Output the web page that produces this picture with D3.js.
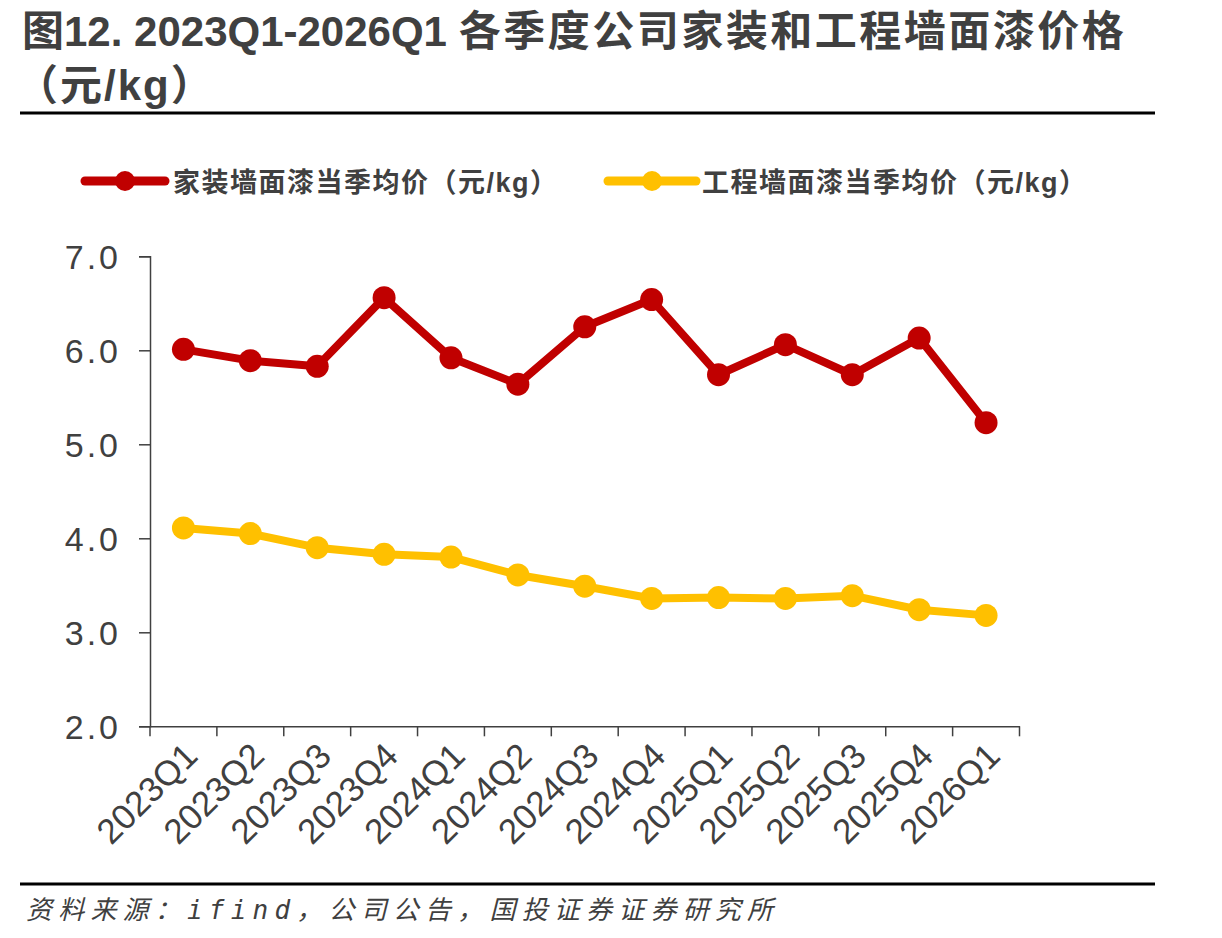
<!DOCTYPE html>
<html>
<head>
<meta charset="utf-8">
<script src="https://cdn.jsdelivr.net/npm/d3@7"></script>
<style>
  body { margin: 0; background: #fff; }
  svg text { font-family: Arial, "Liberation Sans", "Noto Sans CJK SC", sans-serif; fill: #404040; }
</style>
</head>
<body>
<div id="chart"></div>
<script>
// quarters on the x axis
const quarters = ["2023Q1","2023Q2","2023Q3","2023Q4","2024Q1","2024Q2","2024Q3","2024Q4",
                  "2025Q1","2025Q2","2025Q3","2025Q4","2026Q1"];
// 家装墙面漆当季均价 (元/kg)
const homePrice = [6.01, 5.89, 5.83, 6.56, 5.92, 5.64, 6.25, 6.54, 5.74, 6.06, 5.74, 6.13, 5.23];
// 工程墙面漆当季均价 (元/kg)
const projPrice = [4.11, 4.05, 3.90, 3.83, 3.80, 3.61, 3.49, 3.36, 3.37, 3.36, 3.39, 3.24, 3.18];
const yTicks = [2, 3, 4, 5, 6, 7];
const seriesNames = ["家装墙面漆当季均价（元/kg）", "工程墙面漆当季均价（元/kg）"];

const W = 1222, H = 938;
const svg = d3.select("#chart").append("svg")
    .attr("width", W)
    .attr("height", H);

// title
const title = svg.append("text")
    .attr("x", 22).attr("y", 46)
    .style("font-size", "42px").style("font-weight", "bold");
title.append("tspan").text("图12. 2023Q1-2026Q1 ");
title.append("tspan").style("letter-spacing", "2.5px").text("各季度公司家装和工程墙面漆价格");
svg.append("text")
    .attr("x", 16).attr("y", 100)
    .style("font-size", "42px").style("font-weight", "bold")
    .style("letter-spacing", "2px")
    .text("（元/kg）");

svg.append("line")
    .attr("x1", 20).attr("x2", 1155)
    .attr("y1", 113).attr("y2", 113)
    .attr("stroke", "#000").attr("stroke-width", 3);

// scales
const x = d3.scaleBand().domain(quarters).range([150, 1019.5]);
const y = d3.scaleLinear().domain([2, 7]).range([726.3, 256.3]);

// y axis
const yAxis = svg.append("g")
    .attr("transform", "translate(150,0)")
    .call(d3.axisLeft(y).tickValues(yTicks).tickSize(11).tickPadding(18)
        .tickFormat(d => d3.format(".1f")(d)));
yAxis.select(".domain").attr("stroke", "#404040").attr("stroke-width", 1.5);
yAxis.selectAll(".tick line").attr("stroke", "#404040").attr("stroke-width", 1.5);
yAxis.selectAll(".tick text")
    .attr("fill", "#404040")
    .style("font-size", "34px")
    .style("letter-spacing", "3px")
    .attr("dy", "0.36em");

// x axis
const xAxis = svg.append("g")
    .attr("transform", "translate(0,726.3)")
    .call(d3.axisBottom(x).tickSize(0).tickSizeOuter(0).tickFormat(""));
xAxis.select(".domain").attr("stroke", "#404040").attr("stroke-width", 1.5);
// tick marks at band edges
const edges = quarters.map(q => x(q)).concat([x.range()[1]]);
xAxis.selectAll(".edge")
    .data(edges)
    .enter()
    .append("line")
    .attr("class", "edge")
    .attr("x1", d => d).attr("x2", d => d)
    .attr("y1", 0).attr("y2", 10)
    .attr("stroke", "#404040").attr("stroke-width", 1.5);

svg.selectAll(".xlabel")
    .data(quarters)
    .enter()
    .append("text")
    .attr("class", "xlabel")
    .attr("text-anchor", "end")
    .attr("transform", d => "translate(" + (x(d) + x.bandwidth() / 2 + 16) + ",758) rotate(-45)")
    .style("font-size", "35px")
    .text(d => d);

// lines + markers
const series = [
    {values: homePrice, color: "#C00000"},
    {values: projPrice, color: "#FFC000"}
];
const line = d3.line()
    .x((d, i) => x(quarters[i]) + x.bandwidth() / 2)
    .y(d => y(d));

series.forEach(s => {
    svg.append("path")
        .datum(s.values)
        .attr("fill", "none")
        .attr("stroke", s.color)
        .attr("stroke-width", 8)
        .attr("stroke-linejoin", "round")
        .attr("d", line);
    svg.selectAll(null)
        .data(s.values)
        .enter()
        .append("circle")
        .attr("cx", (d, i) => x(quarters[i]) + x.bandwidth() / 2)
        .attr("cy", d => y(d))
        .attr("r", 11.5)
        .attr("fill", s.color);
});

// legend
const legendItems = [
    {name: seriesNames[0], color: "#C00000", x0: 85, x1: 165, tx: 173},
    {name: seriesNames[1], color: "#FFC000", x0: 608, x1: 696, tx: 702}
];
legendItems.forEach(l => {
    svg.append("line")
        .attr("x1", l.x0).attr("x2", l.x1)
        .attr("y1", 181).attr("y2", 181)
        .attr("stroke", l.color).attr("stroke-width", 9)
        .attr("stroke-linecap", "round");
    svg.append("circle")
        .attr("cx", (l.x0 + l.x1) / 2).attr("cy", 181)
        .attr("r", 10).attr("fill", l.color);
    svg.append("text")
        .attr("x", l.tx).attr("y", 192)
        .style("font-size", "27px").style("font-weight", "bold")
        .style("letter-spacing", "1.5px")
        .text(l.name);
});

// footer
svg.append("line")
    .attr("x1", 20).attr("x2", 1155)
    .attr("y1", 884).attr("y2", 884)
    .attr("stroke", "#000").attr("stroke-width", 3);
svg.append("text")
    .attr("x", 26).attr("y", 919)
    .style("font-family", "'DejaVu Sans Mono', 'Noto Sans CJK SC', monospace")
    .style("font-size", "26px").style("font-style", "italic")
    .style("letter-spacing", "6.2px")
    .text("资料来源：ifind，公司公告，国投证券证券研究所");
</script>
</body>
</html>
